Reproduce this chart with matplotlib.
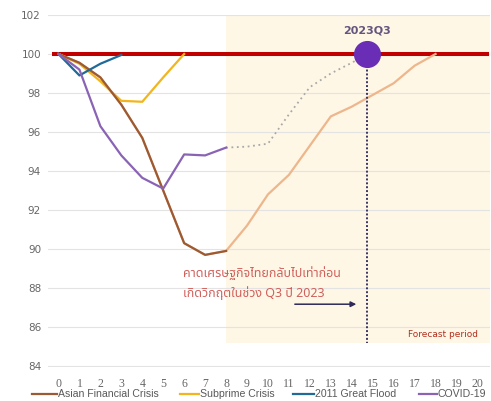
import numpy as np
import matplotlib
matplotlib.use("Agg")
import matplotlib.pyplot as plt
from matplotlib.lines import Line2D

# Data (index = 100 at pre-crisis level, x = quarters after crisis)
quarters = list(range(0, 21))

asian_x = list(range(0, 9))
asian = [100, 99.55, 98.8, 97.4, 95.7, 93.0, 90.3, 89.7, 89.9]
asian_full_x = list(range(0, 19))
asian_full = [100, 99.55, 98.8, 97.4, 95.7, 93.0, 90.3, 89.7, 89.9,
              91.2, 92.8, 93.8, 95.3, 96.8, 97.3, 97.9, 98.5, 99.4, 100]

subprime_x = list(range(0, 7))
subprime = [100, 99.5, 98.6, 97.6, 97.55, 98.8, 100]

flood_x = list(range(0, 4))
flood = [100, 98.9, 99.5, 99.95]

covid_x = list(range(0, 9))
covid = [100, 99.2, 96.3, 94.8, 93.65, 93.1, 94.85, 94.8, 95.2]
covid_fc_x = [8, 9, 10, 11, 12, 13, 14, 14.75]
covid_fc = [95.2, 95.25, 95.4, 96.9, 98.3, 99.0, 99.55, 100]

event_x = 14.75
event_label = "2023Q3"
forecast_start = 8
thai_line1 = "คาดเศรษฐกิจไทยกลับไปเท่าก่อน"
thai_line2 = "เกิดวิกฤตในช่วง Q3 ปี 2023"

c_asian = "#9C5A34"
c_asian_fc = "#EDB68C"
c_sub = "#F2B51E"
c_flood = "#1F6A99"
c_covid = "#8A63B5"
c_red = "#C00000"

fig = plt.figure(figsize=(4.91, 4.01), dpi=100)
ax = fig.add_axes([48 / 491, 1 - 367 / 401, 442 / 491, 352 / 401])
ax.set_xlim(-0.5, 20.6)
ax.set_ylim(83.95, 102)

# forecast shading
ax.axvspan(forecast_start, 20.6, ymin=(85.2 - 83.95) / 18.05, ymax=1, color="#FEF7E6", lw=0, zorder=0)

ax.set_yticks(np.arange(84, 103, 2))
ax.set_xticks(quarters)
ax.grid(axis="y", color="#E3E3E3", lw=0.8, zorder=0.5)
for s in ax.spines.values():
    s.set_visible(False)
ax.tick_params(length=0)
ax.tick_params(axis="y", labelsize=7.5, labelcolor="#666666", pad=5)
ax.tick_params(axis="x", labelsize=8.5, labelcolor="#666666", pad=8)
for lab in ax.get_xticklabels():
    lab.set_family("Liberation Serif")

ax.plot([-0.3, 20.55], [100, 100], color=c_red, lw=2.9, zorder=2, solid_capstyle="butt")

ax.plot(asian_full_x, asian_full, color=c_asian_fc, lw=1.6, zorder=3)
ax.plot(asian_x, asian, color=c_asian, lw=1.6, zorder=4)
ax.plot(subprime_x, subprime, color=c_sub, lw=1.6, zorder=3)
ax.plot(flood_x, flood, color=c_flood, lw=1.6, zorder=5)
ax.plot(covid_x, covid, color=c_covid, lw=1.6, zorder=5)
ax.plot(covid_fc_x, covid_fc, color="#A8A8A8", lw=1.3, ls=(0, (1, 2)), zorder=3)

# event marker
ax.plot([event_x, event_x], [100, 85.2], color="#3A3564", lw=1.4, ls=(0, (1, 1)), zorder=3)
ax.plot(event_x, 100, "o", ms=18.5, color="#6A2DB5", zorder=6)
ax.text(event_x, 101.2, event_label, ha="center", va="center", fontsize=8,
        fontweight="bold", color="#64557F")

thai_font = ["Noto Sans Thai", "DejaVu Sans"]
ax.text(5.95, 88.77, thai_line1, ha="left", va="center", fontsize=9,
        color="#D0605C", family=thai_font)
ax.text(5.95, 87.74, thai_line2, ha="left", va="center", fontsize=9,
        color="#D0605C", family=thai_font)
ax.annotate("", xy=(14.35, 87.17), xytext=(11.15, 87.17),
            arrowprops=dict(arrowstyle="-|>", color="#2E2A5A", lw=1.1, mutation_scale=8))
ax.text(20.05, 85.6, "Forecast period", ha="right", va="center", fontsize=6.5, color="#B03020")

# legend drawn by hand: (label, colour, line start px, line end px)
legend_items = [("Asian Financial Crisis", c_asian, 32, 57),
                ("Subprime Crisis", c_sub, 180, 199),
                ("2011 Great Flood", c_flood, 293, 314),
                ("COVID-19", c_covid, 419, 437)]
ly = 1 - 394 / 401
for name, col, x0, x1 in legend_items:
    fig.add_artist(Line2D([x0 / 491, x1 / 491], [ly, ly], color=col, lw=1.6))
    fig.text((x1 + 1) / 491, ly, name, ha="left", va="center", fontsize=7.6,
             color="#595959", family="Liberation Sans")

fig.savefig("out.png")
